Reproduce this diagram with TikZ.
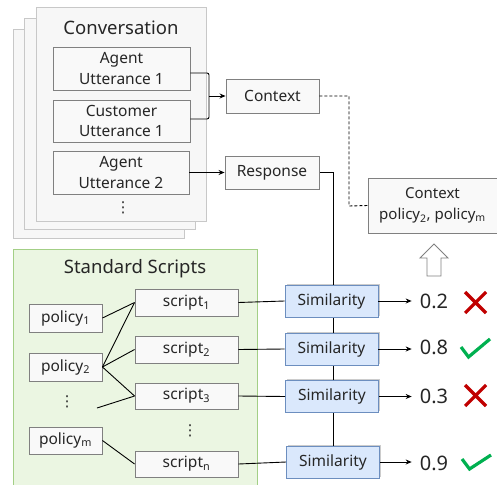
\documentclass[tikz,border=0pt]{standalone}
\usepackage{fontspec}
\setmainfont{Noto Sans}
\newfontfamily\symfont{DejaVu Sans}
\usetikzlibrary{arrows.meta,shadows}
\pgfdeclarelayer{background}
\pgfsetlayers{background,main}
\definecolor{pageline}{HTML}{C8C8C8}
\definecolor{pagefill}{HTML}{F7F7F7}
\definecolor{boxline}{HTML}{808080}
\definecolor{boxfill}{HTML}{F9F9F9}
\definecolor{greenfill}{HTML}{EBF6E2}
\definecolor{greenline}{HTML}{A3CF86}
\definecolor{simfill}{HTML}{DAE8FC}
\definecolor{simline}{HTML}{6C8EBF}
\definecolor{crossred}{HTML}{C00000}
\definecolor{checkgreen}{HTML}{00B050}
\definecolor{ink}{HTML}{262626}
\newcommand\lo[1]{\textsubscript{#1}}
\tikzset{
  page/.style={draw=pageline, fill=pagefill, line width=1},
  gbox/.style={draw=boxline, fill=boxfill, line width=0.9, inner sep=0, align=center,
    text=ink, font=\fontsize{15.5}{20.5}\selectfont},
  simbox/.style={draw=simline, fill=simfill, line width=0.9, inner sep=0, text=ink,
    minimum width=93, minimum height=32, font=\fontsize{15.5}{18}\selectfont,
    drop shadow={shadow xshift=1.5, shadow yshift=-1.5, fill=black, opacity=0.2}},
  conn/.style={line width=0.9, draw=black},
  arr/.style={conn, -{Stealth[length=6, width=5]}},
  score/.style={font=\fontsize{20}{24}\selectfont, inner sep=0, text=ink},
  mark red/.style={draw=crossred, line width=3.2},
  mark green/.style={draw=checkgreen, line width=3.2},
  title/.style={font=\fontsize{18.5}{22}\selectfont, inner sep=0, text=ink},
  dots/.style={font=\symfont\fontsize{15}{16}\selectfont, inner sep=0, text=ink},
}
\begin{document}
\begin{tikzpicture}[x=1pt, y=-1pt]
\useasboundingbox (0,0) rectangle (497,484);

% stacked conversation pages
\draw[page] (13,30) rectangle (184,238);
\draw[page] (24,19) rectangle (195,229);
\draw[page] (36,8) rectangle (206,221);
\node[title] (conv) at (121,28) {Conversation};

\node[gbox, minimum width=137, minimum height=43] (au1) at (121.5,68.5) {Agent\\Utterance 1};
\node[gbox, minimum width=137, minimum height=42] (cu1) at (121.5,121) {Customer\\Utterance 1};
\node[gbox, minimum width=136, minimum height=43] (au2) at (121,172.5) {Agent\\Utterance 2};
\node[dots] (cdots) at (123,208) {⋮};

% context and response
\node[gbox, minimum width=93, minimum height=34] (ctx) at (272.5,96) {Context};
\node[gbox, minimum width=94, minimum height=33] (resp) at (272,172.5) {Response};
\node[gbox, minimum width=129, minimum height=55, font=\fontsize{15}{21}\selectfont] (ctx2) at (432.5,205.5)
  {Context\\policy\lo{2}, policy\lo{m}};

\coordinate (brk) at (209,96);
\draw[conn, rounded corners=2] (au1.east |- 0,73) -- (209,73) -- (209,119) -- (cu1.east |- 0,119);
\draw[arr] (brk) -- (ctx.west);
\draw[arr] (au2.east) -- (resp.west);
\draw[conn, dashed, dash pattern=on 3 off 2] (ctx.east) -| (349,206) -- (ctx2.west);

% hollow arrow pointing up to the selected context
\draw[draw=boxline, fill=white, line width=0.9]
  (427,276) -- (427,258) -- (420,258) -- (434,244) -- (448,258) -- (441,258) -- (441,276) -- cycle;

% standard scripts panel
\draw[draw=greenline, fill=greenfill, line width=1] (13,249) rectangle (257,490);
\node[title] (std) at (135,269) {Standard Scripts};

\node[gbox, minimum width=73, minimum height=28] (p1) at (65.5,318) {policy\lo{1}};
\node[gbox, minimum width=73, minimum height=28] (p2) at (65.5,367) {policy\lo{2}};
\node[dots] (pdots) at (67,402) {⋮};
\node[gbox, minimum width=73, minimum height=27] (pm) at (65.5,440.5) {policy\lo{m}};

\node[gbox, minimum width=103, minimum height=27] (s1) at (186.5,302.5) {script\lo{1}};
\node[gbox, minimum width=103, minimum height=27] (s2) at (186.5,349.5) {script\lo{2}};
\node[gbox, minimum width=103, minimum height=26] (s3) at (186.5,396) {script\lo{3}};
\node[dots] (sdots) at (190,431) {⋮};
\node[gbox, minimum width=103, minimum height=26] (sn) at (186.5,464) {script\lo{n}};

\coordinate (loose) at (97,408);
\draw[conn] (p1.east) -- (s1.west);
\draw[conn] (p2.east) -- (s1.west);
\draw[conn] (p2.east) -- (s2.west);
\draw[conn] (p2.east) -- (s3.west);
\draw[conn] (loose) -- (s3.west);
\draw[conn] (pm.east) -- (sn.west);

% similarity scoring
\node[simbox] (sim1) at (331.5,301) {Similarity};
\node[simbox] (sim2) at (331.5,349) {Similarity};
\node[simbox] (sim3) at (332,396.5) {Similarity};
\node[simbox] (sim4) at (333,462) {Similarity};

\begin{pgfonlayer}{background}
\draw[conn] (resp.east) -| (sim4.north -| 333,0);
\end{pgfonlayer}
\draw[conn] (s1.east) -- (sim1.west);
\draw[conn] (s2.east) -- (sim2.west);
\draw[conn] (s3.east) -- (sim3.west);
\draw[conn] (sn.east) -- (sim4.west);

\node[score] (v1) at (434,301) {0.2};
\node[score] (v2) at (434,347) {0.8};
\node[score] (v3) at (434,396) {0.3};
\node[score] (v4) at (434,463) {0.9};
\draw[arr] (sim1.east) -- ([xshift=-8]sim1.east -| v1.west);
\draw[arr] (sim2.east) -- ([xshift=-8]sim2.east -| v2.west);
\draw[arr] (sim3.east) -- ([xshift=-8]sim3.east -| v3.west);
\draw[arr] (sim4.east) -- ([xshift=-8]sim4.east -| v4.west);

% verdict marks
\draw[mark red] (465,292) -- (486,313) (486,292) -- (465,313);
\draw[mark red] (465,385) -- (486,406) (486,385) -- (465,406);
\draw[mark green] (461,347) -- (468.5,357) -- (490,339);
\draw[mark green] (462,459) -- (469.5,469) -- (491,455);
\end{tikzpicture}
\end{document}
